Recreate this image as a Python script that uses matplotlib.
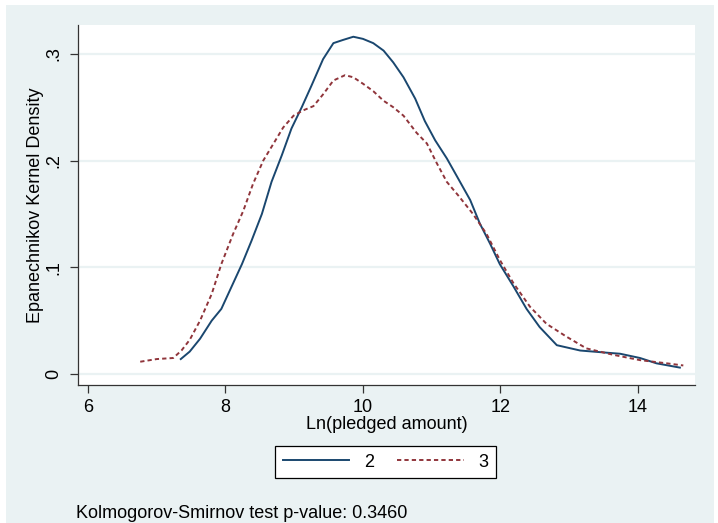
import matplotlib
matplotlib.use("Agg")
import matplotlib.pyplot as plt
from matplotlib.patches import Rectangle

# kernel density estimates
x_grp2 = [7.35, 7.48, 7.63, 7.80, 7.94, 8.09, 8.24, 8.38, 8.53, 8.67, 8.82, 8.96,
          9.11, 9.25, 9.42, 9.57, 9.71, 9.86, 10.00, 10.15, 10.30, 10.44, 10.59,
          10.76, 10.90, 11.05, 11.22, 11.36, 11.56, 11.70, 11.85, 11.99, 12.19,
          12.38, 12.57, 12.82, 13.16, 13.54, 13.74, 14.03, 14.27, 14.61]
y_grp2 = [0.014, 0.021, 0.033, 0.050, 0.061, 0.082, 0.103, 0.125, 0.150, 0.180,
          0.205, 0.230, 0.250, 0.270, 0.295, 0.310, 0.313, 0.316, 0.314, 0.310,
          0.303, 0.292, 0.278, 0.258, 0.237, 0.219, 0.202, 0.186, 0.163, 0.141,
          0.122, 0.103, 0.082, 0.061, 0.044, 0.027, 0.022, 0.020, 0.019, 0.015,
          0.010, 0.006]

x_grp3 = [6.76, 7.00, 7.24, 7.36, 7.48, 7.63, 7.80, 7.94, 8.11, 8.26, 8.40, 8.55,
          8.70, 8.84, 8.99, 9.13, 9.28, 9.42, 9.57, 9.74, 9.86, 10.00, 10.15,
          10.30, 10.44, 10.59, 10.78, 10.93, 11.07, 11.22, 11.39, 11.60, 11.80,
          11.99, 12.19, 12.43, 12.67, 12.96, 13.25, 13.64, 14.03, 14.42, 14.66]
y_grp3 = [0.0115, 0.014, 0.015, 0.022, 0.032, 0.050, 0.075, 0.103, 0.131, 0.153,
          0.178, 0.200, 0.216, 0.231, 0.242, 0.247, 0.251, 0.262, 0.275, 0.280,
          0.278, 0.272, 0.265, 0.256, 0.250, 0.242, 0.226, 0.216, 0.198, 0.180,
          0.167, 0.150, 0.131, 0.107, 0.085, 0.063, 0.047, 0.035, 0.024, 0.018,
          0.013, 0.010, 0.008]

x_ticks = [6, 8, 10, 12, 14]
y_ticks = [0, 0.1, 0.2, 0.3]
y_ticklabels = ["0", ".1", ".2", ".3"]
ks_pvalue = 0.3460

plt.rcParams['font.family'] = ['Liberation Sans', 'DejaVu Sans']
BG = '#EAF2F3'
NAVY = '#1A476F'
MAROON = '#90353B'

fig = plt.figure(figsize=(7.18, 5.23), dpi=100, facecolor='white')
fig.patches.append(Rectangle((6 / 718, 0), 708 / 718, 1 - 5 / 523,
                             transform=fig.transFigure, facecolor=BG,
                             edgecolor='none', zorder=-10))

ax = fig.add_axes([78 / 718, 1 - 385 / 523, (695 - 78) / 718, (385 - 25) / 523])
ax.set_facecolor('white')

l2, = ax.plot(x_grp2, y_grp2, color=NAVY, lw=1.4, label='2')
l3, = ax.plot(x_grp3, y_grp3, color=MAROON, lw=1.4, dashes=(2.2, 1.6), label='3')

ax.set_xlim(5.855, 14.83)
ax.set_ylim(-0.0103, 0.327)
ax.set_xticks(x_ticks)
ax.set_yticks(y_ticks)
ax.set_yticklabels(y_ticklabels, rotation=90, va='center')
ax.tick_params(axis='both', direction='out', length=6, width=0.9,
               color='#333333', labelsize=13, pad=4)
ax.tick_params(axis='y', pad=5)
ax.yaxis.grid(True, color=BG, lw=1.6)
ax.set_axisbelow(True)
for side in ['top', 'right']:
    ax.spines[side].set_visible(False)
for side in ['left', 'bottom']:
    ax.spines[side].set_color('#333333')
    ax.spines[side].set_linewidth(0.9)

ax.set_xlabel('Ln(pledged amount)', fontsize=13, labelpad=0)
ax.set_ylabel('Epanechnikov Kernel Density', fontsize=13, labelpad=1)

leg = fig.legend(handles=[l2, l3], loc='center', bbox_to_anchor=(0.537, 0.1166),
                 ncol=2, fontsize=13, frameon=True, fancybox=False, framealpha=1,
                 handlelength=3.7, columnspacing=1.3, handletextpad=0.8,
                 borderpad=0.42, borderaxespad=0)
leg.get_frame().set_edgecolor('black')
leg.get_frame().set_linewidth(0.9)
leg.get_frame().set_facecolor('white')

fig.text(76 / 718, 1 - 513 / 523, 'Kolmogorov-Smirnov test p-value: %.4f' % ks_pvalue,
         fontsize=13, ha='left', va='center')

fig.savefig('out.png', dpi=100, facecolor='white')
